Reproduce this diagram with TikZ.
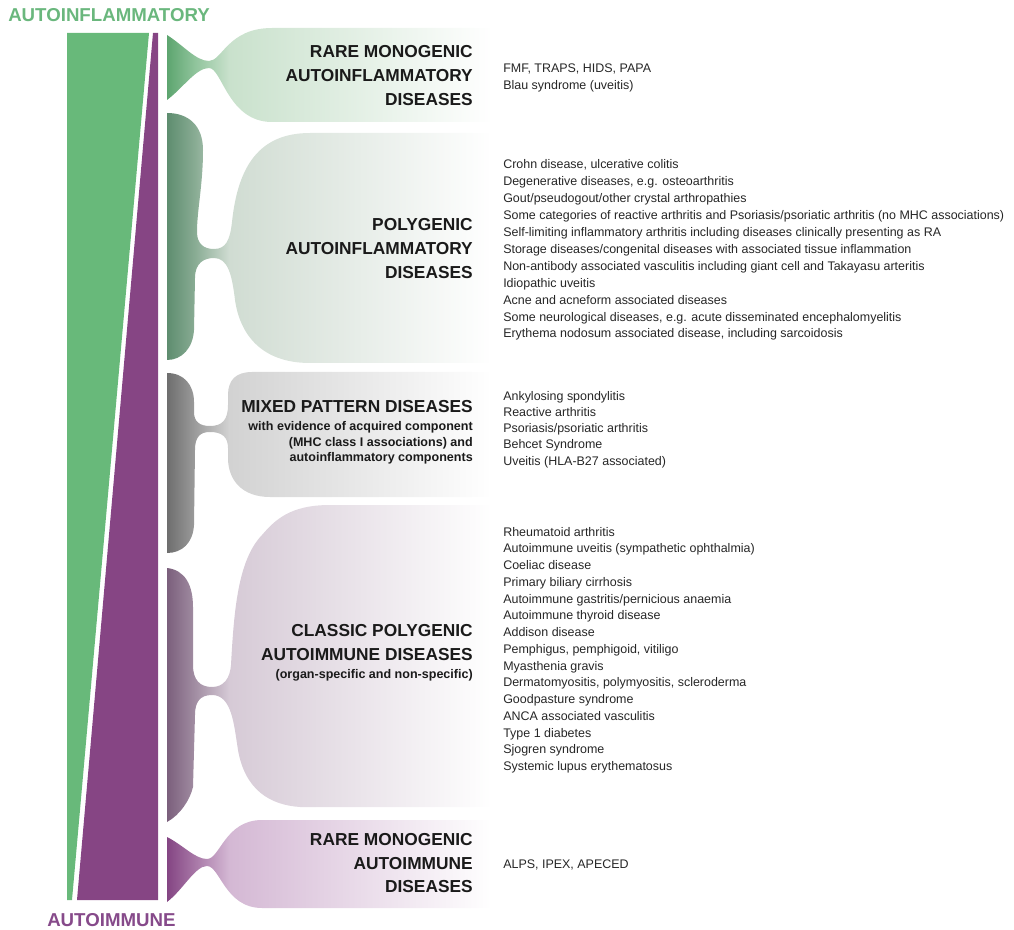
\documentclass[tikz,border=0pt]{standalone}
\usepackage{fontspec}
\setmainfont{Liberation Sans}
\definecolor{gmain}{HTML}{68B97A}
\definecolor{pmain}{HTML}{864584}
\definecolor{gtitle}{HTML}{6AB77D}
\definecolor{ptitle}{HTML}{864A8A}
\definecolor{headc}{HTML}{1A1A1A}
\definecolor{itemc}{HTML}{262626}
\definecolor{s1a}{HTML}{5DA56F}\definecolor{s1b}{HTML}{90C49C}\definecolor{s1c}{HTML}{C9E1CC}
\definecolor{s2a}{HTML}{5E8D6F}\definecolor{s2b}{HTML}{89AC94}\definecolor{s2c}{HTML}{D0DCD2}
\definecolor{s3a}{HTML}{6E6E6E}\definecolor{s3b}{HTML}{9C9C9C}\definecolor{s3c}{HTML}{D2D2D2}
\definecolor{s4a}{HTML}{7B5F7C}\definecolor{s4b}{HTML}{A28EA3}\definecolor{s4c}{HTML}{D6CAD6}
\definecolor{s5a}{HTML}{844583}\definecolor{s5b}{HTML}{A878A7}\definecolor{s5c}{HTML}{D4B8D4}
\newcommand{\mkshade}[4]{\pgfdeclarehorizontalshading{#1}{100bp}{color(0bp)=(#2); color(25bp)=(#2); color(29.3bp)=(#3); color(34.5bp)=(#4); color(74.5bp)=(white); color(100bp)=(white)}}
\mkshade{shA}{s1a}{s1b}{s1c}
\mkshade{shB}{s2a}{s2b}{s2c}
\mkshade{shC}{s3a}{s3b}{s3c}
\mkshade{shD}{s4a}{s4b}{s4c}
\mkshade{shE}{s5a}{s5b}{s5c}
\tikzset{
  heading/.style={font=\fontsize{13}{18}\selectfont\bfseries, inner sep=0pt, anchor=base east, text=headc},
  subhead/.style={font=\fontsize{9.4}{12}\selectfont\bfseries, inner sep=0pt, anchor=base east, text=headc},
  item/.style={font=\fontsize{9.35}{12}\selectfont, inner sep=0pt, anchor=base west, text=itemc},
  bigtitle/.style={font=\fontsize{14}{16}\selectfont\bfseries, inner sep=0pt, anchor=base west},
  branch/.style={draw=none}
}
\begin{document}
\begin{tikzpicture}[x=0.75pt,y=-0.75pt]
\path[use as bounding box] (0,0) rectangle (1014,930);
% main wedges
\fill[gmain] (67,33) -- (149,33) -- (72,900) -- (67,900) -- cycle;
\fill[pmain] (153,33) -- (158,33) -- (158,900) -- (77,900) -- cycle;
% branch 1
\path[branch, shading=shA] (167,35) .. controls (183,45) and (196,61) .. (209,61)
  .. controls (222,61) and (228,28) .. (272,28) -- (495,28) -- (495,122) -- (272,122)
  .. controls (228,122) and (222,68) .. (209,68)
  .. controls (196,68) and (183,88) .. (167,100) -- cycle;
% branch 2
\path[branch, shading=shB] (167,113) .. controls (188,113) and (203,125) .. (203,150)
  .. controls (203,185) and (197,210) .. (197,232)
  .. controls (197,244) and (204,249) .. (214,249)
  .. controls (226,249) and (230,240) .. (232,222)
  .. controls (238,165) and (260,133) .. (310,133)
  -- (495,133) -- (495,363) -- (310,363)
  .. controls (262,363) and (240,335) .. (235,300)
  .. controls (232,275) and (228,258) .. (214,258)
  .. controls (204,258) and (195,263) .. (195,278)
  -- (194,330)
  .. controls (193,348) and (182,360) .. (167,360) -- cycle;
% branch 3
\path[branch, shading=shC] (167,373) .. controls (184,373) and (194,385) .. (194,402)
  -- (194,412)
  .. controls (194,422) and (200,426) .. (210,426)
  .. controls (222,426) and (228,420) .. (228,405)
  -- (228,395) .. controls (228,380) and (236,372) .. (252,372)
  -- (495,372) -- (495,497) -- (270,497)
  .. controls (242,497) and (228,480) .. (228,458)
  -- (228,448) .. controls (228,437) and (222,432) .. (210,432)
  .. controls (200,432) and (195,437) .. (195,450)
  -- (194,525)
  .. controls (193,543) and (182,553) .. (167,553) -- cycle;
% branch 4
\path[branch, shading=shD] (167,568) .. controls (185,570) and (193,585) .. (193,607)
  -- (193,665)
  .. controls (193,680) and (200,687) .. (212,687)
  .. controls (224,687) and (230,678) .. (231,665)
  .. controls (234,610) and (238,560) .. (262,535)
  .. controls (275,520) and (290,505) .. (330,505)
  -- (495,505) -- (495,807) -- (300,807)
  .. controls (270,805) and (245,790) .. (238,750)
  .. controls (234,725) and (232,695) .. (212,695)
  .. controls (200,695) and (195,702) .. (195,715)
  -- (193,787)
  .. controls (190,800) and (180,815) .. (167,822) -- cycle;
% branch 5
\path[branch, shading=shE] (167,837) .. controls (183,845) and (195,859) .. (207,859)
  .. controls (220,859) and (225,820) .. (262,820)
  -- (495,820) -- (495,908) -- (262,908)
  .. controls (225,908) and (220,866) .. (207,866)
  .. controls (195,866) and (183,890) .. (167,902) -- cycle;
% titles
\node[bigtitle, text=gtitle] (tAI) at (8,21.7) {AUTOINFLAMMATORY};
\node[bigtitle, text=ptitle] (tAIM) at (47,926.7) {AUTOIMMUNE};
% headings
\node[heading] (h1a) at (473,57.3) {RARE MONOGENIC};
\node[heading] (h1b) at (473,81.5) {AUTOINFLAMMATORY};
\node[heading] (h1c) at (473,105.5) {DISEASES};
\node[heading] (h2a) at (473,230.7) {POLYGENIC};
\node[heading] (h2b) at (473,255) {AUTOINFLAMMATORY};
\node[heading] (h2c) at (473,279) {DISEASES};
\node[heading] (h3a) at (473,412.7) {MIXED PATTERN DISEASES};
\node[subhead] (h3b) at (473,430.7) {with evidence of acquired component};
\node[subhead] (h3c) at (473,446) {(MHC class I associations) and};
\node[subhead] (h3d) at (473,461) {autoinflammatory components};
\node[heading] (h4a) at (473,636.7) {CLASSIC POLYGENIC};
\node[heading] (h4b) at (473,660.7) {AUTOIMMUNE DISEASES};
\node[subhead] (h4c) at (473,678) {(organ-specific and non-specific)};
\node[heading] (h5a) at (473,845) {RARE MONOGENIC};
\node[heading] (h5b) at (473,869.3) {AUTOIMMUNE};
\node[heading] (h5c) at (473,892.7) {DISEASES};
% lists
\node[item] (l1a) at (503,73) {FMF, TRAPS, HIDS, PAPA};
\node[item] (l1b) at (503,89.5) {Blau syndrome (uveitis)};
\foreach \t [count=\i] in {{Crohn disease, ulcerative colitis},
  {Degenerative diseases, e.g. osteoarthritis},
  {Gout/pseudogout/other crystal arthropathies},
  {Some categories of reactive arthritis and Psoriasis/psoriatic arthritis (no MHC associations)},
  {Self-limiting inflammatory arthritis including diseases clinically presenting as RA},
  {Storage diseases/congenital diseases with associated tissue inflammation},
  {Non-antibody associated vasculitis including giant cell and Takayasu arteritis},
  {Idiopathic uveitis},
  {Acne and acneform associated diseases},
  {Some neurological diseases, e.g. acute disseminated encephalomyelitis},
  {Erythema nodosum associated disease, including sarcoidosis}}
  \node[item] (l2\i) at (503,{169+16.9*(\i-1)}) {\t};
\foreach \t [count=\i] in {{Ankylosing spondylitis},{Reactive arthritis},{Psoriasis/psoriatic arthritis},{Behcet Syndrome},{Uveitis (HLA-B27 associated)}}
  \node[item] (l3\i) at (503,{401+16*(\i-1)}) {\t};
\foreach \t [count=\i] in {{Rheumatoid arthritis},
  {Autoimmune uveitis (sympathetic ophthalmia)},
  {Coeliac disease},
  {Primary biliary cirrhosis},
  {Autoimmune gastritis/pernicious anaemia},
  {Autoimmune thyroid disease},
  {Addison disease},
  {Pemphigus, pemphigoid, vitiligo},
  {Myasthenia gravis},
  {Dermatomyositis, polymyositis, scleroderma},
  {Goodpasture syndrome},
  {ANCA associated vasculitis},
  {Type 1 diabetes},
  {Sjogren syndrome},
  {Systemic lupus erythematosus}}
  \node[item] (l4\i) at (503,{536+16.76*(\i-1)}) {\t};
\node[item] (l5a) at (503,868) {ALPS, IPEX, APECED};
\end{tikzpicture}
\end{document}
